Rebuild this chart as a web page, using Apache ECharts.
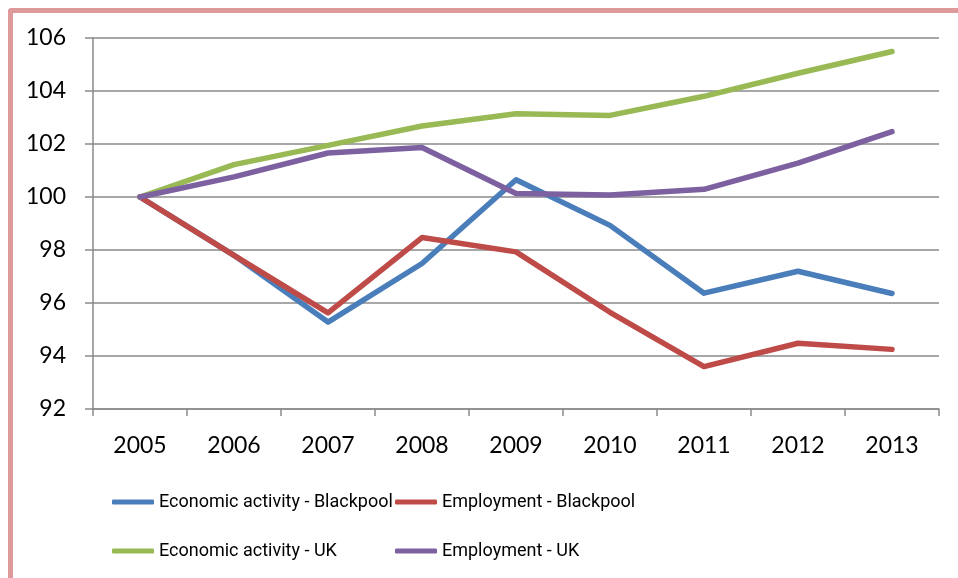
<!DOCTYPE html>
<html>
<head>
<meta charset="utf-8">
<title>Economic activity and employment</title>
<script src="https://cdn.jsdelivr.net/npm/echarts@6/dist/echarts.min.js"></script>
<style>
  html, body { margin: 0; padding: 0; background: #fff; }
  #wrap { position: relative; width: 958px; height: 578px; overflow: hidden; }
  #frame {
    position: absolute; left: 8px; top: 8px; right: -10px; bottom: -10px;
    border-top: 5px solid #DE9A9A; border-left: 5px solid #DE9A9A;
    border-top-left-radius: 4px; pointer-events: none; z-index: 2;
  }
  #chart { position: absolute; left: 0; top: 0; width: 958px; height: 578px; }
</style>
</head>
<body>
<div id="wrap">
  <div id="chart"></div>
  <div id="frame"></div>
</div>
<script>
// categories (years)
const years = ['2005', '2006', '2007', '2008', '2009', '2010', '2011', '2012', '2013']
// index values, 2005 = 100
const econBlackpool = [100, 97.8, 95.28, 97.49, 100.65, 98.93, 96.37, 97.2, 96.36]
const emplBlackpool = [100, 97.8, 95.63, 98.47, 97.93, 95.65, 93.6, 94.48, 94.25]
const econUK = [100, 101.22, 101.95, 102.68, 103.14, 103.08, 103.8, 104.67, 105.49]
const emplUK = [100, 100.76, 101.66, 101.87, 100.13, 100.08, 100.29, 101.28, 102.47]
// y axis range
const yMin = 92
const yMax = 106
const yStep = 2

const chart = echarts.init(document.getElementById('chart'))

const axisFont = 'Lato, "Open Sans", sans-serif'
const legendFont = 'Roboto, "Noto Sans", sans-serif'
const gridColor = '#8A8A8A'

function line (name, data, color) {
  return {
    name: name,
    type: 'line',
    data: data,
    symbol: 'none',
    smooth: false,
    itemStyle: { color: color },
    lineStyle: { color: color, width: 5.5, cap: 'round', join: 'round' }
  }
}

const legendBase = {
  orient: 'vertical',
  top: 490,
  padding: 0,
  icon: 'roundRect',
  itemWidth: 42,
  itemHeight: 5,
  itemGap: 25,
  textStyle: { fontFamily: legendFont, fontSize: 18, color: '#000', lineHeight: 24 }
}

const option = {
  animation: false,
  backgroundColor: '#fff',
  grid: { left: 93, right: 19, top: 38, bottom: 169, containLabel: false },
  legend: [
    Object.assign({}, legendBase, { left: 112, data: ['Economic activity - Blackpool', 'Economic activity - UK'] }),
    Object.assign({}, legendBase, { left: 395, data: ['Employment - Blackpool', 'Employment - UK'] })
  ],
  xAxis: {
    type: 'category',
    data: years,
    boundaryGap: true,
    axisLine: { lineStyle: { color: gridColor, width: 1.5 } },
    axisTick: { show: true, length: 7, lineStyle: { color: gridColor, width: 1.5 } },
    axisLabel: { fontFamily: axisFont, fontSize: 23, color: '#000', margin: 25 }
  },
  yAxis: {
    type: 'value',
    min: yMin,
    max: yMax,
    interval: yStep,
    axisLine: { show: true, lineStyle: { color: gridColor, width: 1.5 } },
    axisTick: { show: true, length: 8, lineStyle: { color: gridColor, width: 1.5 } },
    axisLabel: { fontFamily: axisFont, fontSize: 23, color: '#000', margin: 27 },
    splitLine: { lineStyle: { color: gridColor, width: 1.5 } }
  },
  series: [
    line('Economic activity - Blackpool', econBlackpool, '#4A7EBB'),
    line('Employment - Blackpool', emplBlackpool, '#BE4B48'),
    line('Economic activity - UK', econUK, '#98B954'),
    line('Employment - UK', emplUK, '#7D60A0')
  ]
}

chart.setOption(option)
</script>
</body>
</html>
